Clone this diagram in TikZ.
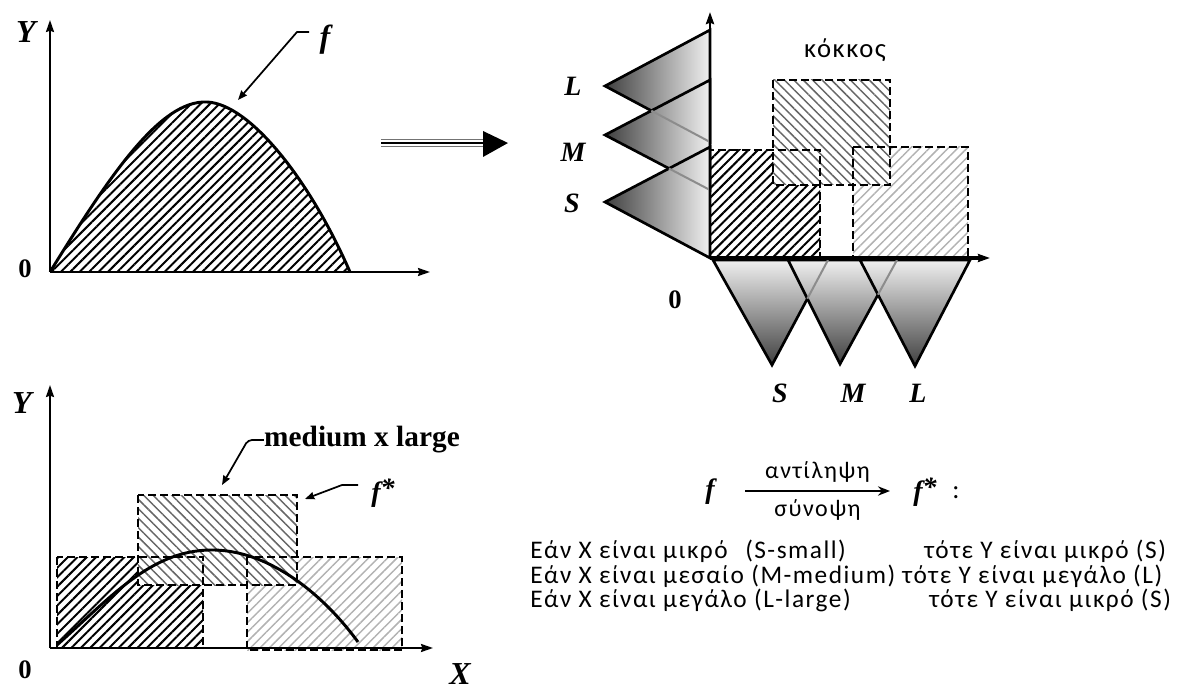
\documentclass[tikz,border=0pt]{standalone}
\usepackage{fontspec}
\setmainfont{Liberation Serif}
\newfontfamily\grfont[LetterSpace=6]{Carlito}
\usetikzlibrary{arrows.meta,patterns.meta,calc}

\begin{document}
\begin{tikzpicture}[
  x=0.75pt, y=-0.75pt,
  >={Stealth[length=9pt,width=6pt,inset=1pt]},
  axis/.style={->, line width=1.5pt},
  curve/.style={line width=2.2pt},
  lead/.style={->, line width=1.3pt, >={Stealth[length=7pt,width=5.5pt,inset=0.5pt]}},
  lbl/.style={font=\fontsize{21}{24}\selectfont\bfseries\itshape, inner sep=0pt},
  biglbl/.style={font=\fontsize{24}{26}\selectfont\bfseries\itshape, inner sep=0pt},
  zero/.style={font=\fontsize{20}{22}\selectfont\bfseries, inner sep=0pt},
  gtxt/.style={font=\grfont\fontsize{19}{22}\selectfont, inner sep=0pt},
  cell/.style={draw, dash pattern=on 6pt off 3pt, line width=1.3pt},
  darkcell/.style={pattern={Lines[angle=45,distance=5pt,line width=1.5pt]}, pattern color=black},
  midcell/.style={preaction={fill=white}, pattern={Lines[angle=-45,distance=5pt,line width=1.1pt]}, pattern color=black!60},
  lightcell/.style={pattern={Lines[angle=45,distance=5pt,line width=1.1pt]}, pattern color=black!30},
  ytri/.style={left color=black!75, right color=black!6, line width=2pt, line join=miter},
  xtri/.style={top color=black!6, bottom color=black!75, line width=2pt, line join=miter},
  hidden/.style={draw=black!45, line width=1.5pt}
]
\useasboundingbox (0,0) rectangle (1203,691);

% ---------- top left: f ----------
\fill[darkcell] (50,272) .. controls (110,175) and (160,100) .. (207,102)
  .. controls (250,104) and (310,180) .. (350,272) -- cycle;
\draw[curve] (50,272) .. controls (110,175) and (160,100) .. (207,102)
  .. controls (250,104) and (310,180) .. (350,272);
\draw[axis] (50,272) coordinate (O1) -- (50,20);
\draw[axis] (O1) -- (430,272);
\node[biglbl] (y1) at (26,32) {Y};
\node[zero] (o1) at (25,269) {0};
\node[biglbl] (f1) at (325,40) {f};
\coordinate (f1lead) at (309,32);
\coordinate (f1tip) at (238,100);
\draw[lead] (f1lead) -- ++(-12,0) -- (f1tip);

% ---------- double arrow ----------
\coordinate (da) at (381,143);
\coordinate (db) at (486,143);
\draw[black!55, line width=5.8pt] (da) -- (db);
\draw[white, line width=4.2pt] (da) -- (db);
\draw[black, line width=2.2pt] (da) -- (db);
\fill (483,131) -- (508,143) -- (483,157) -- cycle;

% ---------- top right: granules ----------
\fill[darkcell] (710,150) rectangle (820,258);
\fill[lightcell] (853,147) rectangle (968,258);
\fill[midcell] (773,80) rectangle (890,185);
\draw[cell] (710,150) rectangle (820,258);
\draw[cell] (853,147) rectangle (968,258);
\draw[cell] (773,80) rectangle (890,185);

% Y fuzzy sets
\draw[ytri] (710,30) coordinate (Lt) -- (605,86) coordinate (La) -- (710,142) coordinate (Lb) -- cycle;
\draw[ytri] (710,80) coordinate (Mt) -- (605,135) coordinate (Ma) -- (710,190) coordinate (Mb) -- cycle;
\draw[ytri] (710,147) coordinate (St) -- (605,202) coordinate (Sa) -- (710,258) coordinate (Sb) -- cycle;
\draw[hidden] (intersection of La--Lb and Mt--Ma) -- (Lb);
\draw[hidden] (intersection of Ma--Mb and St--Sa) -- (Mb);

% X fuzzy sets
\draw[xtri] (713,260) coordinate (sl) -- (772,365) coordinate (sa) -- (828,260) coordinate (sr) -- cycle;
\draw[xtri] (788,260) coordinate (ml) -- (840,364) coordinate (ma) -- (897,260) coordinate (mr) -- cycle;
\draw[xtri] (860,260) coordinate (ll) -- (915,366) coordinate (la) -- (970,260) coordinate (lr) -- cycle;
\draw[hidden] (intersection of sa--sr and ml--ma) -- (sr);
\draw[hidden] (intersection of ma--mr and ll--la) -- (mr);

\draw[->, line width=2.2pt] (710,258) coordinate (O2) -- (710,12);
\draw[->, line width=3.6pt] (O2) -- (990,258);

\node[lbl] (yL) at (573,86) {L};
\node[lbl] (yM) at (573,152) {M};
\node[lbl] (yS) at (572,203) {S};
\node[lbl] (xS) at (780,393) {S};
\node[lbl] (xM) at (853,393) {M};
\node[lbl] (xL) at (918,393) {L};
\node[zero] (o2) at (675,300) {0};
\node[gtxt, font=\grfont\fontsize{20}{23}\selectfont] (grain) at (845,50) {κόκκος};

% ---------- bottom left: f* ----------
\fill[darkcell] (57,557) rectangle (203,648);
\fill[lightcell] (247,557) rectangle (402,650);
\fill[midcell] (138,495) rectangle (297,585);
\draw[cell] (57,557) rectangle (203,648);
\draw[cell] (247,557) rectangle (402,650);
\draw[cell] (138,495) rectangle (297,585);
\draw[curve] (57,645) .. controls (110,598) and (150,551) .. (210,550)
  .. controls (265,549) and (320,590) .. (358,642);
\draw[axis] (50,648) coordinate (O3) -- (50,385);
\draw[axis] (O3) -- (433,648);
\node[biglbl] (y3) at (22,403) {Y};
\node[zero] (o3) at (25,670) {0};
\node[biglbl] (x3) at (460,674) {X};

\node[font=\fontsize{22}{24}\selectfont\bfseries, inner sep=0pt] (mxl) at (362,440) {medium x large};
\coordinate (mxltip) at (222,485);
\draw[lead, rounded corners=3pt] (mxl.west) -- ++(-16,0) -- (mxltip);
\node[lbl] (fs) at (383,493) {f\raisebox{3pt}{*}};
\coordinate (fslead) at (358,485);
\coordinate (fstip) at (305,499);
\draw[lead] (fslead) -- ++(-16,0) -- (fstip);

% ---------- formula ----------
\node[lbl] (fa) at (710,492) {f};
\node[lbl] (fb) at (925,492) {f\raisebox{3pt}{*}};
\node[gtxt, font=\grfont\fontsize{20}{22}\selectfont] (colon) at (956,493) {:};
\coordinate (pa) at (745,491);
\coordinate (pb) at (890,491);
\draw[->, line width=1.4pt, >={Stealth[length=9pt,width=7pt]}] (pa) -- (pb)
  node[gtxt, font=\grfont\fontsize{18}{21}\selectfont, midway, above=6pt] (perc) {αντίληψη}
  node[gtxt, font=\grfont\fontsize{18}{21}\selectfont, midway, below=6pt] (summ) {σύνοψη};

% ---------- rules ----------
\node[gtxt, anchor=base west] (r1a) at (530,558) {Εάν Χ είναι μικρό};
\node[gtxt, anchor=base west] (r1b) at (745,558) {(S-small)};
\node[gtxt, anchor=base west] (r1c) at (924,558) {τότε Υ είναι μικρό (S)};
\node[gtxt, anchor=base west] (r2) at (530,583) {Εάν Χ είναι μεσαίο (M-medium) τότε Υ είναι μεγάλο (L)};
\node[gtxt, anchor=base west] (r3a) at (530,607) {Εάν Χ είναι μεγάλο (L-large)};
\node[gtxt, anchor=base west] (r3c) at (929,607) {τότε Υ είναι μικρό (S)};

\end{tikzpicture}
\end{document}
